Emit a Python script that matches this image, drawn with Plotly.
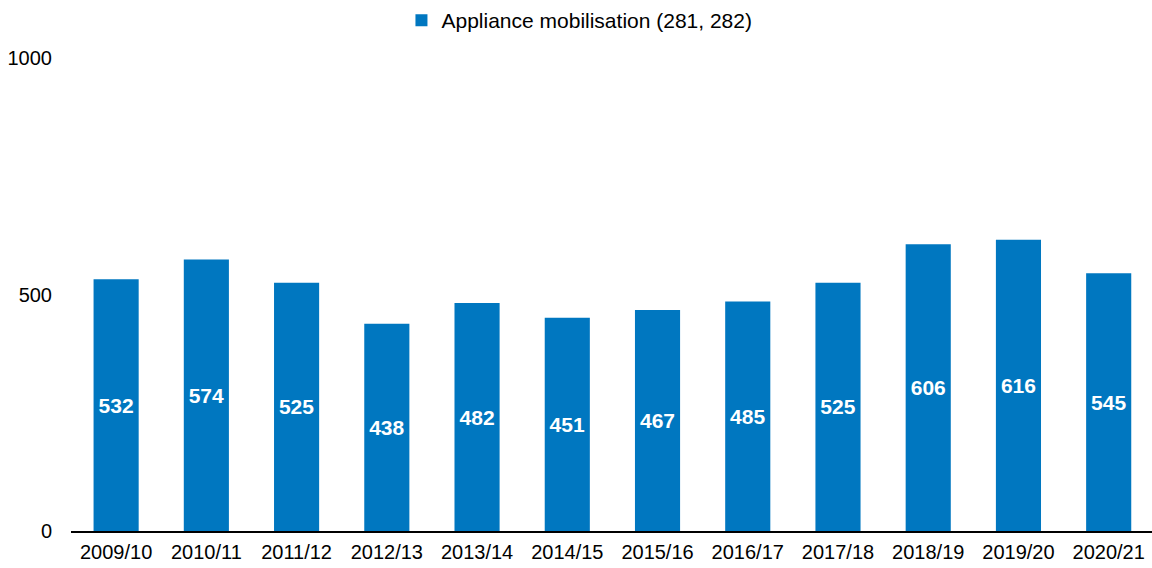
import plotly.graph_objects as go

categories = ["2009/10", "2010/11", "2011/12", "2012/13", "2013/14", "2014/15",
              "2015/16", "2016/17", "2017/18", "2018/19", "2019/20", "2020/21"]
values = [532, 574, 525, 438, 482, 451, 467, 485, 525, 606, 616, 545]
series_name = "Appliance mobilisation (281, 282)"
y_ticks = [0, 500, 1000]

fig = go.Figure()
fig.add_trace(go.Bar(
    x=categories, y=values, name=series_name,
    marker=dict(color="#0077C0", line=dict(width=0)),
    width=0.5,
    text=[str(v) for v in values],
    textposition="inside", insidetextanchor="middle",
    textfont=dict(family="Liberation Sans, Arial", size=21, color="white", weight="bold"),
    textangle=0,
))
fig.update_layout(
    width=1152, height=568,
    margin=dict(l=71, r=0, t=58, b=37),
    paper_bgcolor="white", plot_bgcolor="white",
    font=dict(family="Liberation Sans, Arial", size=20, color="black"),
    showlegend=True,
    legend=dict(orientation="h", x=0.503, xanchor="center", xref="container",
                y=1.0, yanchor="top", yref="container",
                font=dict(size=21), itemwidth=30),
    uniformtext=dict(minsize=10, mode="show"),
)
fig.update_xaxes(showline=True, linecolor="black", linewidth=2, ticks="",
                 range=[-0.5, 11.48], tickfont=dict(size=20), showgrid=False,
                 ticklabelstandoff=2)
fig.update_yaxes(range=[0, 1000], tickvals=y_ticks, showgrid=False, zeroline=False,
                 showline=False, ticks="", tickfont=dict(size=20), ticklabelstandoff=18)
fig.write_html("out.html")
